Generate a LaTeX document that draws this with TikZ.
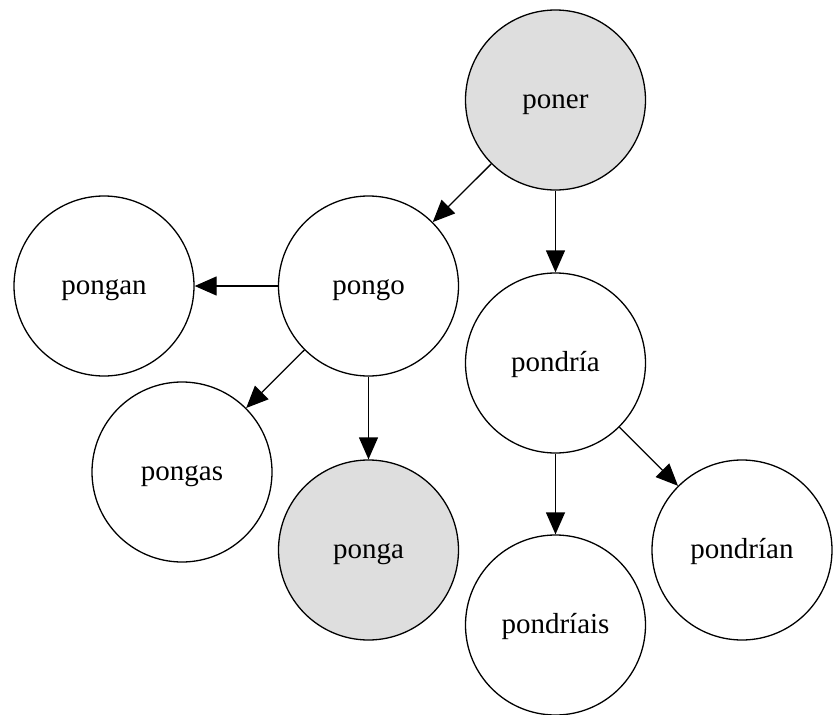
\documentclass[tikz,border=0pt]{standalone}
\usepackage{fontspec}
\setmainfont{Liberation Serif}
\usepackage{xcolor}
\definecolor{nodegray}{RGB}{222, 222, 222}
\usetikzlibrary{arrows.meta}
\tikzset{
  wordnode/.style={circle, draw=black, fill=white, line width=1.3pt,
    minimum size=180pt, inner sep=0pt, text height=22pt, text depth=6pt,
    font=\fontsize{29}{33}\selectfont},
  keynode/.style={wordnode, fill=nodegray},
  edgearrow/.style={-{Triangle[length=22pt, width=19pt]}, line width=1.3pt}
}
\begin{document}
\begin{tikzpicture}[x=1pt, y=-1pt]
  \useasboundingbox (0,0) rectangle (839,715);

  \node[keynode]  (poner)     at (555.5,100) {poner};
  \node[wordnode] (pongo)     at (368.5,286) {pongo};
  \node[wordnode] (pongan)    at (104,286)   {pongan};
  \node[wordnode] (pondria)   at (555.5,363) {pondría};
  \node[wordnode] (pongas)    at (182,472)   {pongas};
  \node[keynode]  (ponga)     at (368.5,550) {ponga};
  \node[wordnode] (pondrian)  at (742,550)   {pondrían};
  \node[wordnode] (pondriais) at (555.5,625) {pondríais};

  % poner branches
  \draw[edgearrow] (poner) -- (pongo);
  \draw[edgearrow] (poner) -- (pondria);

  % pongo branches
  \draw[edgearrow] (pongo) -- (pongan);
  \draw[edgearrow] (pongo) -- (pongas);
  \draw[edgearrow] (pongo) -- (ponga);

  % pondria branches
  \draw[edgearrow] (pondria) -- (pondriais);
  \draw[edgearrow] (pondria) -- (pondrian);

\end{tikzpicture}
\end{document}
